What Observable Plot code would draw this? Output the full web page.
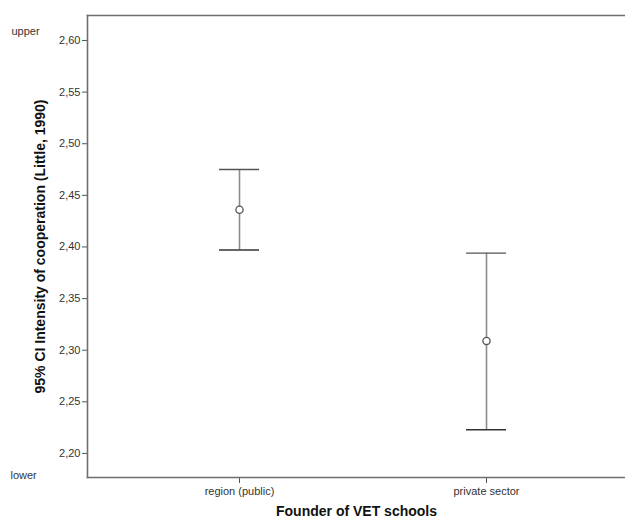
<!DOCTYPE html>
<html>
<head>
<meta charset="utf-8">
<script src="https://cdn.jsdelivr.net/npm/d3@7"></script>
<script src="https://cdn.jsdelivr.net/npm/@observablehq/plot@0.6"></script>
<style>
  html, body { margin: 0; padding: 0; background: #fff; }
  #chart { width: 625px; height: 523px; }
  svg { font-family: "Liberation Sans", Arial, sans-serif; }
</style>
</head>
<body>
<div id="chart"></div>
<script>
const categories = ["region (public)", "private sector"];
const means = [2.436, 2.309];
const lower = [2.397, 2.223];
const upper = [2.475, 2.394];
const yTicks = [2.20, 2.25, 2.30, 2.35, 2.40, 2.45, 2.50, 2.55, 2.60];
const yTitle = "95% CI Intensity of cooperation (Little, 1990)";
const xTitle = "Founder of VET schools";

const data = categories.map((c, i) => ({cat: c, mean: means[i], lo: lower[i], hi: upper[i]}));
const fmt = d => d.toFixed(2).replace(".", ",");

const plot = Plot.plot({
  width: 625,
  height: 523,
  marginTop: 15,
  marginBottom: 46,
  marginLeft: 87,
  marginRight: 0,
  style: {fontFamily: "'Liberation Sans', Arial, sans-serif", fontSize: "11px", color: "#333"},
  x: {type: "band", domain: categories, range: [87, 638], paddingInner: 0.838, paddingOuter: 0.534, align: 0.5},
  y: {domain: [2.1767, 2.6242]},
  marks: [
    Plot.axisY({ticks: yTicks, tickFormat: fmt, tickSize: 5, tickPadding: 2, label: null, stroke: "#555", fill: "#333", fontSize: 11}),
    Plot.axisX({tickSize: 6, tickPadding: 4, label: null, stroke: "#555", fill: "#333", fontSize: 11}),
    Plot.frame({anchor: "left", stroke: "#6e6e6e", strokeWidth: 1.6}),
    Plot.frame({anchor: "top", stroke: "#6e6e6e", strokeWidth: 1.6}),
    Plot.frame({anchor: "bottom", stroke: "#6e6e6e", strokeWidth: 1.6}),
    Plot.ruleX(data, {x: "cat", y1: "lo", y2: "hi", stroke: "#8c8c8c", strokeWidth: 1.6}),
    Plot.tickY(data, {x: "cat", y: "hi", stroke: "#555", strokeWidth: 1.4}),
    Plot.tickY(data, {x: "cat", y: "lo", stroke: "#333", strokeWidth: 1.4}),
    Plot.dot(data, {x: "cat", y: "mean", r: 3.6, stroke: "#555", strokeWidth: 1.3, fill: "#fff"}),
    Plot.text([yTitle], {frameAnchor: "left", dx: -47, rotate: -90, textAnchor: "middle", fontSize: 14, fontWeight: "bold", fill: "#111", text: d => d}),
    Plot.text([xTitle], {frameAnchor: "bottom", dy: 38, textAnchor: "middle", fontSize: 14, fontWeight: "bold", fill: "#111", text: d => d}),
    Plot.text(["upper"], {frameAnchor: "top-left", dx: -76, dy: 12, textAnchor: "start", fontSize: 11, fill: "#333", text: d => d}),
    Plot.text(["lower"], {frameAnchor: "bottom-left", dx: -77, dy: 1, textAnchor: "start", fontSize: 11, fill: "#333", text: d => d})
  ]
});
document.getElementById("chart").appendChild(plot);
</script>
</body>
</html>
